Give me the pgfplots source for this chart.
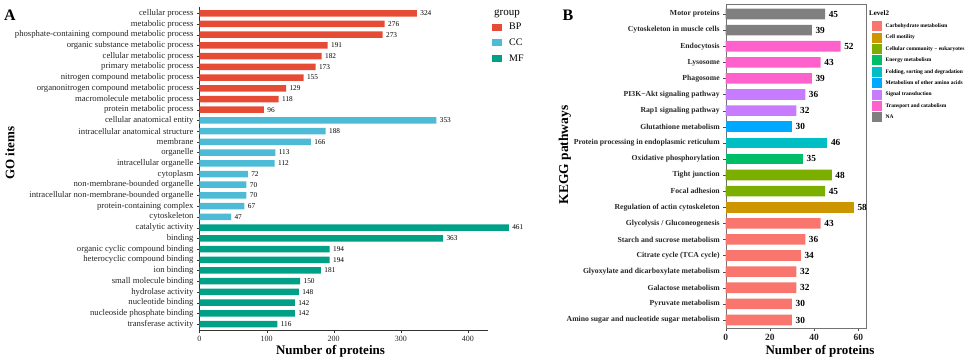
\documentclass[border=0pt]{standalone}
\usepackage{fontspec}
\setmainfont{Liberation Serif}
\usepackage{pgfplots}
\pgfplotsset{compat=1.18}
\definecolor{cBP}{HTML}{E64B35}
\definecolor{cCC}{HTML}{4DBBD5}
\definecolor{cMF}{HTML}{00A087}
\definecolor{kCarb}{HTML}{F8766D}
\definecolor{kMot}{HTML}{CD9600}
\definecolor{kComm}{HTML}{7CAE00}
\definecolor{kEn}{HTML}{00BE67}
\definecolor{kFold}{HTML}{00BFC4}
\definecolor{kAmino}{HTML}{00A9FF}
\definecolor{kSig}{HTML}{C77CFF}
\definecolor{kTrans}{HTML}{FF61CC}
\definecolor{kNA}{HTML}{7F7F7F}
\begin{document}
\begin{tikzpicture}
\useasboundingbox (0,0) rectangle (971pt,-359pt);
% ---------------- Panel A ----------------
\begin{axis}[
  at={(199.5pt,-330.5pt)}, anchor=south west,
  scale only axis, width=288.8pt, height=324pt,
  xmin=0, xmax=430.4, ymin=-0.63, ymax=29.6, y dir=reverse,
  xbar, bar width=6.5pt, bar shift=0pt,
  axis x line*=bottom, axis y line*=left, axis line style={-, black!80},
  tick align=outside, major tick length=2.5pt, tick style={black!80},
  xtick={0,100,200,300,400}, ytick={0,...,29},
  yticklabels={cellular process, metabolic process, phosphate-containing compound metabolic process, organic substance metabolic process, cellular metabolic process, primary metabolic process, nitrogen compound metabolic process, organonitrogen compound metabolic process, macromolecule metabolic process, protein metabolic process, cellular anatomical entity, intracellular anatomical structure, membrane, organelle, intracellular organelle, cytoplasm, non-membrane-bounded organelle, intracellular non-membrane-bounded organelle, protein-containing complex, cytoskeleton, catalytic activity, binding, organic cyclic compound binding, heterocyclic compound binding, ion binding, small molecule binding, hydrolase activity, nucleotide binding, nucleoside phosphate binding, transferase activity},
  y tick label style={font=\fontsize{8.7}{9}\selectfont, text=black!85},
  x tick label style={font=\fontsize{8}{9}\selectfont, text=black!85},
  /pgf/number format/assume math mode=true,
  clip=false,
  nodes near coords, nodes near coords align=horizontal,
  every node near coord/.append style={font=\fontsize{7.3}{8}\selectfont, anchor=west, inner sep=0pt, xshift=3.3pt, text=black},
  legend style={at={(1.0024,0.955)}, anchor=north west, draw=none, fill=none,
    font=\fontsize{10}{10}\selectfont, row sep=7.5pt, nodes={inner sep=0pt},
    /tikz/every odd column/.append style={column sep=7pt}},
  legend image code/.code={\fill[#1] (0pt,-3.6pt) rectangle (10pt,3.6pt);},
  legend cell align=left,
]
\addplot[fill=cBP, draw=none] coordinates {(324,0) (276,1) (273,2) (191,3) (182,4) (173,5) (155,6) (129,7) (118,8) (96,9)};
\addplot[fill=cCC, draw=none] coordinates {(353,10) (188,11) (166,12) (113,13) (112,14) (72,15) (70,16) (70,17) (67,18) (47,19)};
\addplot[fill=cMF, draw=none] coordinates {(461,20) (363,21) (194,22) (194,23) (181,24) (150,25) (148,26) (142,27) (142,28) (116,29)};
\legend{BP, CC, MF}
\end{axis}
% ---------------- Panel B ----------------
\begin{axis}[
  at={(725.7pt,-328pt)}, anchor=south west,
  scale only axis, width=140.3pt, height=323.5pt,
  xmin=0, xmax=63.5, ymin=-0.59, ymax=19.5, y dir=reverse,
  xbar, bar width=10.6pt, bar shift=0pt,
  axis line style={black!55},
  tick align=outside, major tick length=2.5pt, tick style={black!70},
  xtick pos=lower, ytick pos=lower,
  xtick={0,20,40,60}, ytick={0,...,19},
  yticklabels={Motor proteins, Cytoskeleton in muscle cells, Endocytosis, Lysosome, Phagosome, PI3K−Akt signaling pathway, Rap1 signaling pathway, Glutathione metabolism, Protein processing in endoplasmic reticulum, Oxidative phosphorylation, Tight junction, Focal adhesion, Regulation of actin cytoskeleton, Glycolysis / Gluconeogenesis, Starch and sucrose metabolism, Citrate cycle (TCA cycle), Glyoxylate and dicarboxylate metabolism, Galactose metabolism, Pyruvate metabolism, Amino sugar and nucleotide sugar metabolism},
  y tick label style={font=\bfseries\fontsize{7.7}{8}\selectfont, text=black!85},
  x tick label style={font=\bfseries\fontsize{9.5}{10}\selectfont, text=black!85},
  /pgf/number format/assume math mode=true,
  clip=false,
  nodes near coords, nodes near coords align=horizontal,
  every node near coord/.append style={font=\bfseries\fontsize{9.3}{9}\selectfont, anchor=west, inner sep=0pt, xshift=3.5pt, text=black},
  legend style={at={(1.0214,0.955)}, anchor=north west, draw=none, fill=none,
    font=\bfseries\fontsize{5.5}{6}\selectfont, row sep=1.4pt, nodes={inner sep=0pt},
    /tikz/every odd column/.append style={column sep=3.5pt}},
  legend image code/.code={\fill[#1] (0pt,-5pt) rectangle (10pt,5pt);},
  legend cell align=left,
]
\addplot[fill=kCarb, draw=none] coordinates {(43,13) (36,14) (34,15) (32,16) (32,17) (30,18) (30,19)};
\addplot[fill=kMot, draw=none] coordinates {(58,12)};
\addplot[fill=kComm, draw=none] coordinates {(48,10) (45,11)};
\addplot[fill=kEn, draw=none] coordinates {(35,9)};
\addplot[fill=kFold, draw=none] coordinates {(46,8)};
\addplot[fill=kAmino, draw=none] coordinates {(30,7)};
\addplot[fill=kSig, draw=none] coordinates {(36,5) (32,6)};
\addplot[fill=kTrans, draw=none] coordinates {(52,2) (43,3) (39,4)};
\addplot[fill=kNA, draw=none] coordinates {(45,0) (39,1)};
\legend{Carbohydrate metabolism, Cell motility, Cellular community − eukaryotes, Energy metabolism, {Folding, sorting and degradation}, Metabolism of other amino acids, Signal transduction, Transport and catabolism, NA}
\end{axis}
% ---------------- Titles ----------------
\node[font=\fontsize{11}{11}\selectfont] at (507pt,-14pt) {group};
\node[font=\bfseries\fontsize{7}{7}\selectfont, anchor=west, inner sep=0pt] at (869pt,-13pt) {Level2};
\node[font=\bfseries\fontsize{13}{13}\selectfont] at (330.5pt,-351pt) {Number of proteins};
\node[font=\bfseries\fontsize{13}{13}\selectfont] at (820pt,-351pt) {Number of proteins};
\node[rotate=90, font=\bfseries\fontsize{13}{13}\selectfont] at (10pt,-153pt) {GO items};
\node[rotate=90, font=\bfseries\fontsize{13.5}{13.5}\selectfont] at (565pt,-155pt) {KEGG pathways};
\node[font=\bfseries\fontsize{16}{16}\selectfont] at (10pt,-15pt) {A};
\node[font=\bfseries\fontsize{16}{16}\selectfont] at (568pt,-15pt) {B};
\end{tikzpicture}
\end{document}
